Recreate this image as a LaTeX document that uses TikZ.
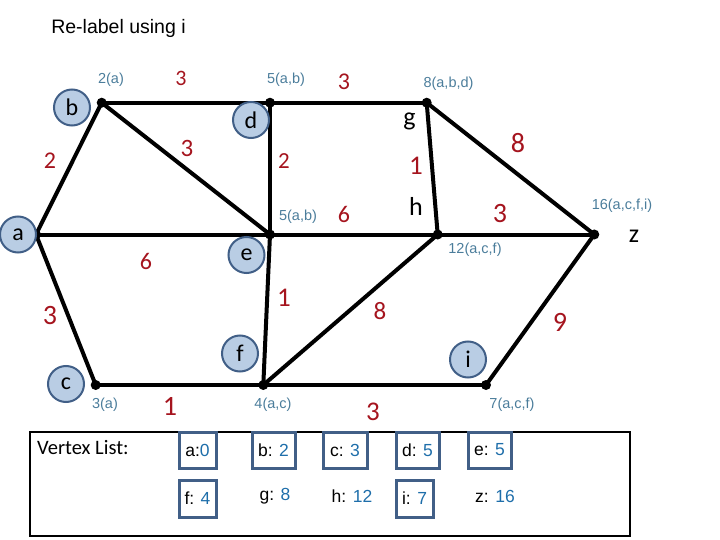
\documentclass[tikz,border=0pt]{standalone}
\usepackage{fontspec}
\setmainfont{Liberation Sans}
\newfontfamily\calfont{Carlito}
\definecolor{wred}{RGB}{165,20,30}
\definecolor{lblue}{RGB}{75,125,155}
\definecolor{cfill}{RGB}{185,205,228}
\definecolor{cedge}{RGB}{65,95,135}
\definecolor{nblue}{RGB}{30,110,170}
\tikzset{
  vdot/.style={circle,fill=black,inner sep=0,minimum size=10},
  gedge/.style={line width=4},
  vlab/.style={circle,draw=cedge,fill=cfill,line width=2,minimum size=36,inner sep=0,font=\calfont\fontsize{24}{24}\selectfont},
  plainlab/.style={font=\calfont\fontsize{26}{26}\selectfont,inner sep=0,anchor=base},
  wt/.style={text=wred,font=\calfont\fontsize{#1}{#1}\selectfont,inner sep=0},
  wt/.default=24,
  dist/.style={text=lblue,font=\fontsize{14.5}{14.5}\selectfont,inner sep=0},
  entry/.style={font=\fontsize{17.5}{17.5}\selectfont,inner sep=0},
  ebox/.style={entry,draw=cedge,line width=3},
}
\newcommand{\nb}[1]{\textcolor{nblue}{#1}}
\begin{document}
\begin{tikzpicture}[x=1pt,y=-1pt]
\useasboundingbox (0,0) rectangle (720,540);
\node[font=\fontsize{19.5}{19.5}\selectfont,inner sep=0] (title) at (118.5,28) {Re-label using i};
% vertices
\node[vdot] (va) at (36,234.5) {};
\node[vdot] (vb) at (101.7,102.7) {};
\node[vdot] (vd) at (270,102.7) {};
\node[vdot] (vg) at (426.7,102.7) {};
\node[vdot] (ve) at (270,234.5) {};
\node[vdot] (vh) at (437.7,234.5) {};
\node[vdot] (vz) at (594.3,234.5) {};
\node[vdot] (vc) at (95.7,385) {};
\node[vdot] (vf) at (263.3,385) {};
\node[vdot] (vi) at (486,385) {};
% edges
\draw[gedge] (va.center) -- (vb.center);
\draw[gedge] (vb.center) -- (vd.center);
\draw[gedge] (vb.center) -- (ve.center);
\draw[gedge] (vd.center) -- (vg.center);
\draw[gedge] (vd.center) -- (ve.center);
\draw[gedge] (vg.center) -- (vh.center);
\draw[gedge] (vg.center) -- (vz.center);
\draw[gedge] (va.center) -- (ve.center);
\draw[gedge] (ve.center) -- (vh.center);
\draw[gedge] (vh.center) -- (vz.center);
\draw[gedge] (va.center) -- (vc.center);
\draw[gedge] (ve.center) -- (vf.center);
\draw[gedge] (vc.center) -- (vf.center);
\draw[gedge] (vf.center) -- (vh.center);
\draw[gedge] (vf.center) -- (vi.center);
\draw[gedge] (vi.center) -- (vz.center);
% vertex names
\node[vlab] (na) at (18,234.5) {a};
\node[vlab] (nb) at (72,107.5) {b};
\node[vlab] (nd) at (251,120) {d};
\node[vlab] (ne) at (246.5,255) {e};
\node[vlab] (nc) at (66,384) {c};
\node[vlab] (nf) at (240,353.5) {f};
\node[vlab] (ni) at (468,359.5) {i};
\node[plainlab] (ng) at (409.5,126) {g};
\node[plainlab] (nh) at (416,215.5) {h};
\node[plainlab] (nz) at (634,242) {z};
% weights
\node[wt=22] (w1) at (181,78) {3};
\node[wt=24] (w2) at (344,82) {3};
\node[wt=24] (w3) at (50,161) {2};
\node[wt=25] (w4) at (187,148) {3};
\node[wt=23] (w5) at (284,161) {2};
\node[wt=27] (w6) at (416,166) {1};
\node[wt=28] (w7) at (518,143) {8};
\node[wt=24] (w8) at (344,214) {6};
\node[wt=28] (w9) at (500,214) {3};
\node[wt=24] (w10) at (146,261) {6};
\node[wt=27] (w11) at (284,298) {1};
\node[wt=25] (w12) at (380,311) {8};
\node[wt=28] (w13) at (50,316) {3};
\node[wt=28] (w14) at (560,322) {9};
\node[wt=28] (w15) at (170,406) {1};
\node[wt=27] (w16) at (373,412) {3};
% distances
\node[dist] (db) at (111,80) {2(a)};
\node[dist] (dd) at (286,80) {5(a,b)};
\node[dist] (dg) at (448.5,84) {8(a,b,d)};
\node[dist] (de) at (298,217) {5(a,b)};
\node[dist] (dh) at (475,250) {12(a,c,f)};
\node[dist] (dz) at (622,206) {16(a,c,f,i)};
\node[dist] (dc) at (105,405) {3(a)};
\node[dist] (df) at (273,405) {4(a,c)};
\node[dist] (di) at (512,405) {7(a,c,f)};
% vertex list
\node[draw,line width=2,minimum width=600,minimum height=104,inner sep=0] (vlist) at (330,484) {};
\node[font=\calfont\fontsize{20.5}{20.5}\selectfont,inner sep=0,anchor=west] (vltitle) at (37,448) {Vertex List:};
\node[ebox,minimum width=37,minimum height=36] (la) at (197.5,450) {a:\nb{0}};
\node[ebox,minimum width=43,minimum height=36] (lb) at (273.5,450) {b: \nb{2}};
\node[ebox,minimum width=44,minimum height=36] (lc) at (345,450) {c: \nb{3}};
\node[ebox,minimum width=43,minimum height=36] (ld) at (417.5,450) {d: \nb{5}};
\node[ebox,minimum width=43,minimum height=36] (le) at (489.5,450) {e: \nb{5}};
\node[ebox,minimum width=37,minimum height=37] (lf) at (197.5,498.5) {f: \nb{4}};
\node[entry] (lg) at (275,496) {g: \nb{8}};
\node[entry] (lh) at (352,496) {h: \nb{12}};
\node[ebox,minimum width=37,minimum height=37] (li) at (414.5,498.5) {i: \nb{7}};
\node[entry] (lz) at (495,496) {z: \nb{16}};
\end{tikzpicture}
\end{document}
